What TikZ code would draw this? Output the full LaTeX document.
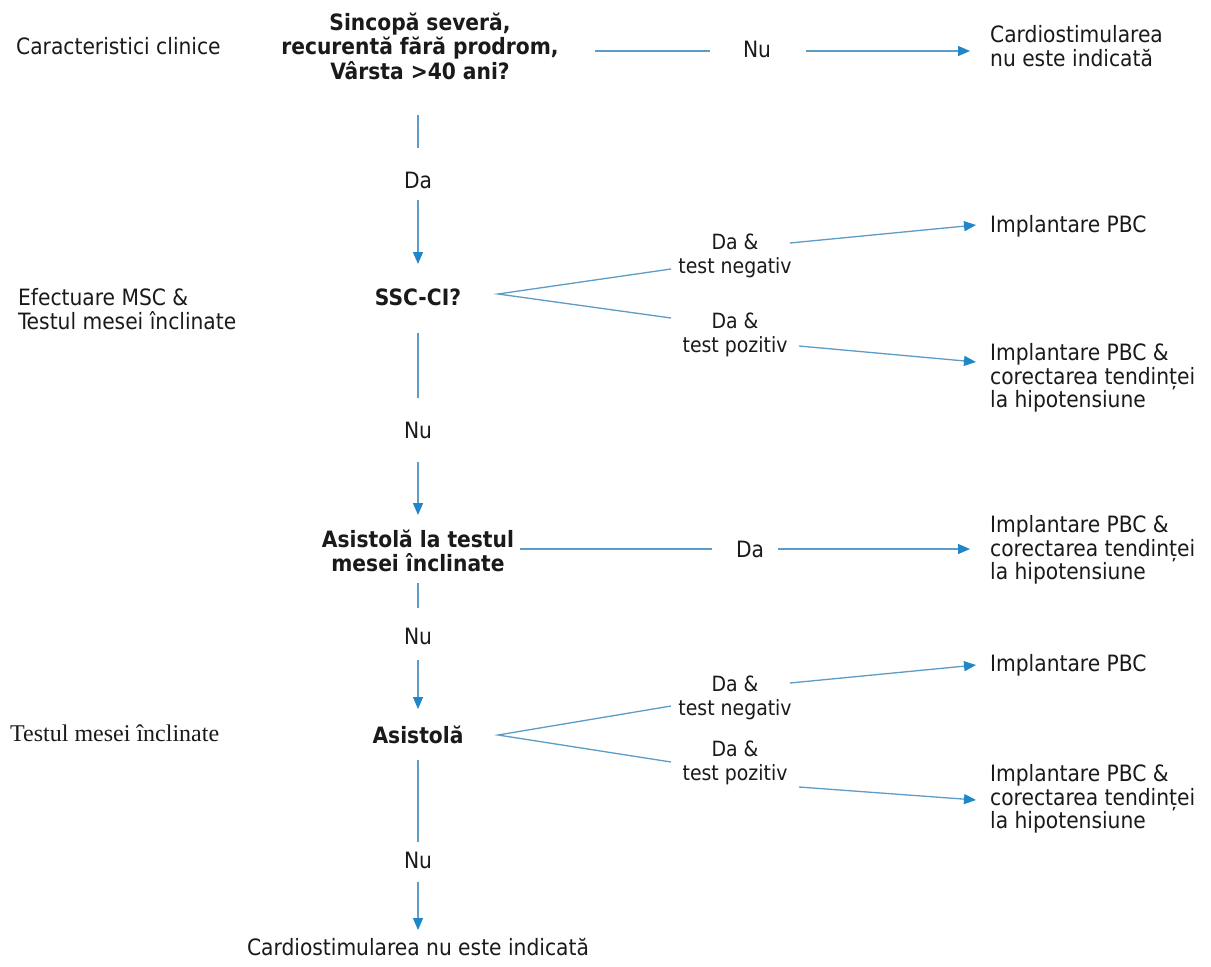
\documentclass[tikz,border=0pt]{standalone}
\usepackage{fontspec}
\setmainfont{DejaVu Sans Condensed}
\newfontfamily\timesfont{Liberation Serif}
\usetikzlibrary{arrows.meta}
\definecolor{lineblue}{HTML}{5E9CC8}
\definecolor{tipblue}{HTML}{1F87C8}
\definecolor{textc}{HTML}{1A1A1A}
\begin{document}
\begin{tikzpicture}[x=1pt,y=-1pt,
  lab/.style={font=\fontsize{22.5}{23.5}\selectfont, text=textc, inner sep=0pt, align=center},
  labl/.style={lab, align=left, anchor=west},
  small/.style={lab, font=\fontsize{21}{24.5}\selectfont},
  dec/.style={lab, font=\fontsize{22.5}{24.5}\selectfont\bfseries},
  ln/.style={draw=lineblue, line width=1.3pt},
  arr/.style={ln, -{Triangle[length=12pt,width=10pt,color=tipblue]}}]
\useasboundingbox[fill=white] (0,0) rectangle (1211,967);

% left column
\node[labl] (cc) at (16,46) {Caracteristici clinice};
\node[labl] (msc) at (18,309) {Efectuare MSC \&\\Testul mesei înclinate};
\node[lab, anchor=west, font=\fontsize{24}{24}\timesfont] (tmi) at (10,733) {Testul mesei înclinate};

% decisions
\node[dec] (q1) at (420,46) {Sincopă severă,\\recurentă fără prodrom,\\Vârsta >40 ani?};
\node[dec] (q2) at (418,297) {SSC-CI?};
\node[dec] (q3) at (418,551) {Asistolă la testul\\mesei înclinate};
\node[dec] (q4) at (418,735) {Asistolă};
\node[lab] (end) at (418,947) {Cardiostimularea nu este indicată};

% labels
\node[lab] (nu1) at (757,49) {Nu};
\node[lab] (da1) at (418,180) {Da};
\node[lab] (nu2) at (418,430) {Nu};
\node[lab] (da3) at (750,549) {Da};
\node[lab] (nu3) at (418,636) {Nu};
\node[lab] (nu4) at (418,860) {Nu};
\node[small] (dn1) at (735,256) {Da \&\\test negativ};
\node[small] (dp1) at (735,335) {Da \&\\test pozitiv};
\node[small] (dn2) at (735,698) {Da \&\\test negativ};
\node[small] (dp2) at (735,763) {Da \&\\test pozitiv};

% right outcomes
\node[labl] (r1) at (990,46) {Cardiostimularea\\nu este indicată};
\node[labl] (r2) at (990,226) {Implantare PBC};
\node[labl] (r3) at (990,378) {Implantare PBC \&\\corectarea tendinței\\la hipotensiune};
\node[labl] (r4) at (990,550) {Implantare PBC \&\\corectarea tendinței\\la hipotensiune};
\node[labl] (r5) at (990,665) {Implantare PBC};
\node[labl] (r6) at (990,799) {Implantare PBC \&\\corectarea tendinței\\la hipotensiune};

% connector end points
\coordinate (q1e) at (595,51);
\coordinate (nu1w) at (710,51);
\coordinate (nu1e) at (806,51);
\coordinate (r1w) at (970,51);
\coordinate (q1s) at (418,115);
\coordinate (da1n) at (418,148);
\coordinate (da1s) at (418,200);
\coordinate (q2n) at (418,264);
\coordinate (q2e) at (498,294);
\coordinate (dn1w) at (671,269);
\coordinate (dp1w) at (671,318);
\coordinate (dn1e) at (790,243);
\coordinate (r2w) at (976,225);
\coordinate (dp1e) at (799,346);
\coordinate (r3w) at (976,362);
\coordinate (q2s) at (418,333);
\coordinate (nu2n) at (418,398);
\coordinate (nu2s) at (418,462);
\coordinate (q3n) at (418,515);
\coordinate (q3e) at (520,549);
\coordinate (da3w) at (712,549);
\coordinate (da3e) at (778,549);
\coordinate (r4w) at (970,549);
\coordinate (q3s) at (418,583);
\coordinate (nu3n) at (418,608);
\coordinate (nu3s) at (418,660);
\coordinate (q4n) at (418,709);
\coordinate (q4e) at (498,735);
\coordinate (dn2w) at (671,706);
\coordinate (dp2w) at (671,762);
\coordinate (dn2e) at (790,683);
\coordinate (r5w) at (976,665);
\coordinate (dp2e) at (799,787);
\coordinate (r6w) at (976,800);
\coordinate (q4s) at (418,760);
\coordinate (nu4n) at (418,842);
\coordinate (nu4s) at (418,882);
\coordinate (endn) at (418,930);

% connectors
\draw[ln] (q1e) -- (nu1w);
\draw[arr] (nu1e) -- (r1w);
\draw[ln] (q1s) -- (da1n);
\draw[arr] (da1s) -- (q2n);
\draw[ln] (dn1w) -- (q2e) -- (dp1w);
\draw[arr] (dn1e) -- (r2w);
\draw[arr] (dp1e) -- (r3w);
\draw[ln] (q2s) -- (nu2n);
\draw[arr] (nu2s) -- (q3n);
\draw[ln] (q3e) -- (da3w);
\draw[arr] (da3e) -- (r4w);
\draw[ln] (q3s) -- (nu3n);
\draw[arr] (nu3s) -- (q4n);
\draw[ln] (dn2w) -- (q4e) -- (dp2w);
\draw[arr] (dn2e) -- (r5w);
\draw[arr] (dp2e) -- (r6w);
\draw[ln] (q4s) -- (nu4n);
\draw[arr] (nu4s) -- (endn);
\end{tikzpicture}
\end{document}
